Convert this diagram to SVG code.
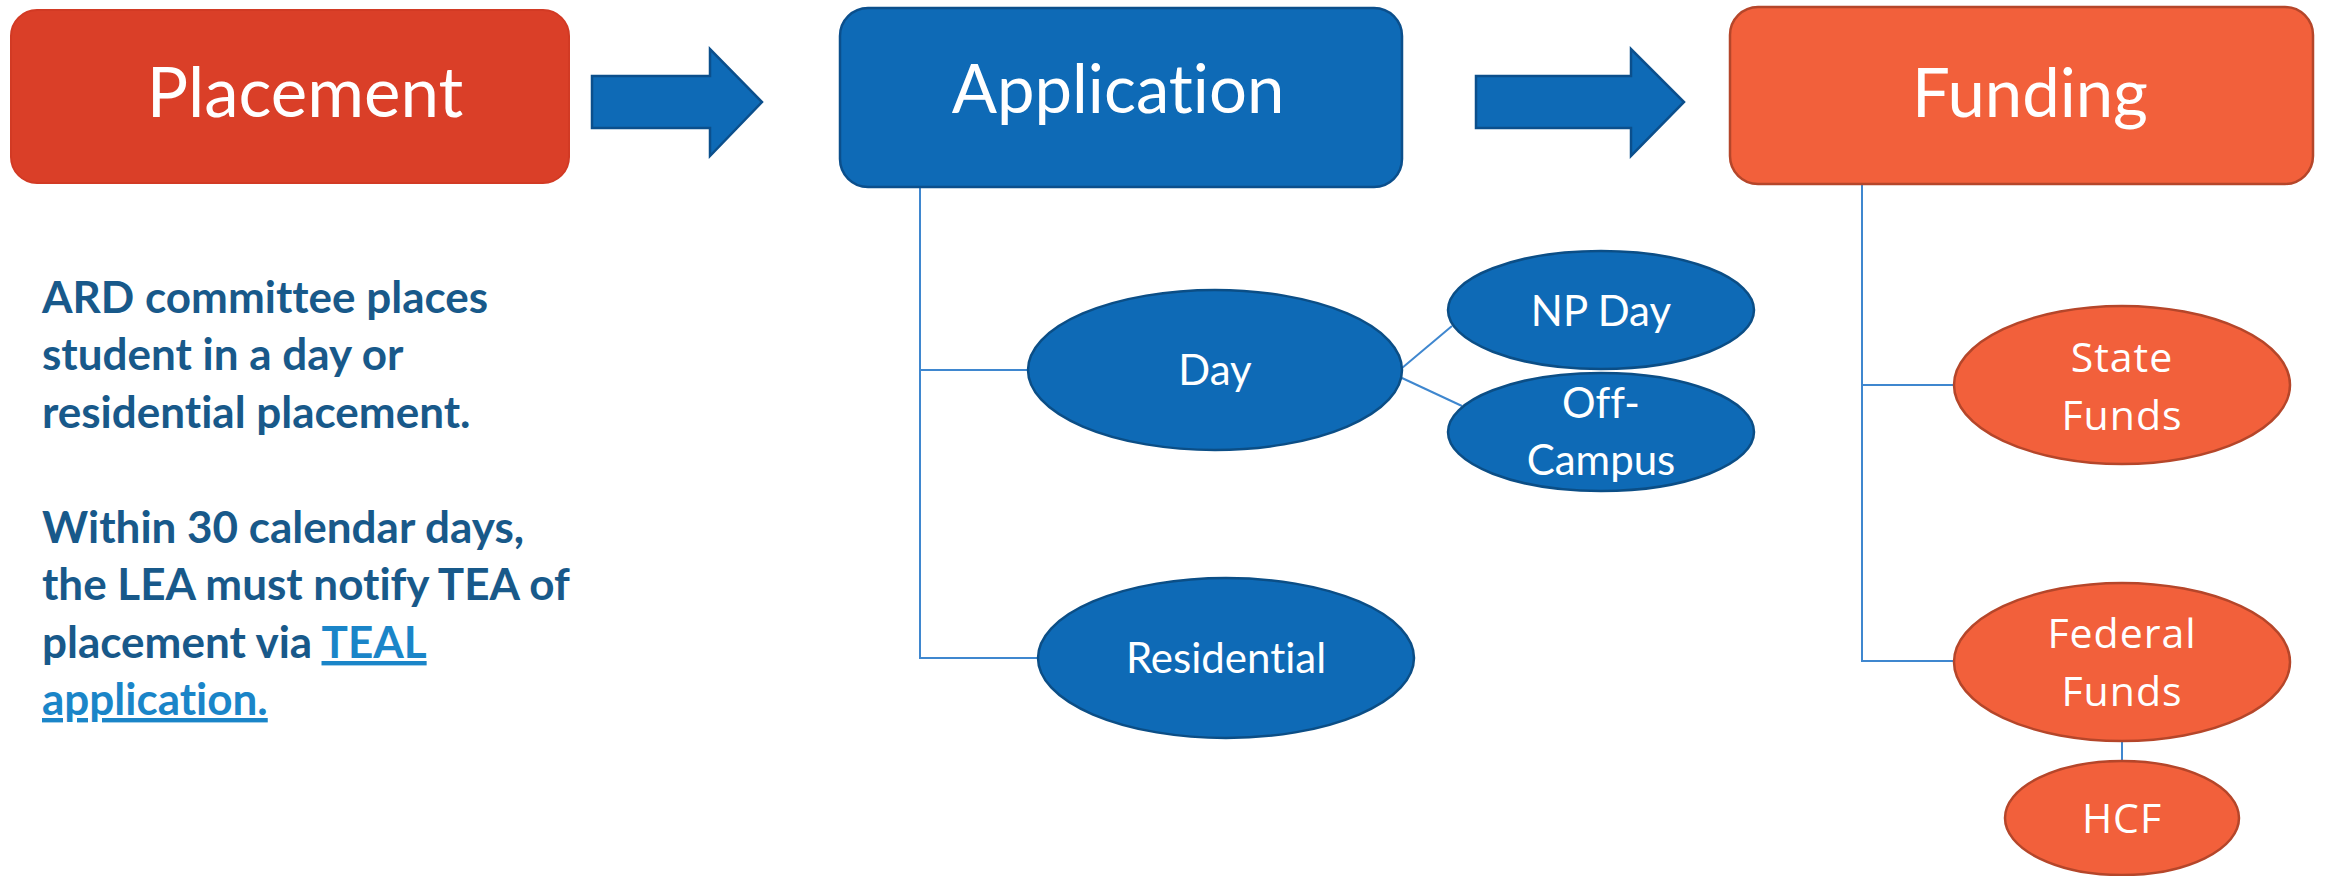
<svg xmlns="http://www.w3.org/2000/svg" width="2326" height="876" viewBox="0 0 2326 876">
<style>
text{font-variant-ligatures:none;font-feature-settings:"liga" 0,"clig" 0}
.bg{fill:#ffffff}
.boxRed{fill:#DA3F28;stroke:#D23A24;stroke-width:2}
.boxBlue{fill:#0E6AB6;stroke:#0B4F8C;stroke-width:2.5}
.boxOrg{fill:#F2603B;stroke:#B5462A;stroke-width:2.5}
.ellBlue{fill:#0E6AB6;stroke:#0B4E86;stroke-width:2.5}
.ellOrg{fill:#F2603B;stroke:#B5462A;stroke-width:2.5}
.arrow{fill:#0E6AB6;stroke:#0B4F8C;stroke-width:2.5}
.conn{fill:none;stroke:#3F87CF;stroke-width:2}
.title{font-family:Lato,"Open Sans",sans-serif;fill:#ffffff;text-anchor:middle}
.lbl{font-family:Lato,"Open Sans",sans-serif;fill:#ffffff;text-anchor:middle;font-size:42px}
.lblO{font-family:"Open Sans","Noto Sans",sans-serif;fill:#ffffff;text-anchor:middle;font-size:41px;letter-spacing:1px}
.note{font-family:Lato,"Open Sans",sans-serif;font-weight:bold;font-size:44px;fill:#18598A}
.link{fill:#1A85C8;text-decoration:underline}
</style>
<rect class="bg" x="0" y="0" width="2326" height="876"/>
<g id="connectors">
<polyline class="conn" points="920,187 920,658 1039,658"/>
<line class="conn" x1="920" y1="370" x2="1028" y2="370"/>
<line class="conn" x1="1402" y1="368" x2="1452" y2="326"/>
<line class="conn" x1="1402" y1="378" x2="1462" y2="406"/>
<polyline class="conn" points="1862,184 1862,661 1954,661"/>
<line class="conn" x1="1862" y1="385" x2="1954" y2="385"/>
<line class="conn" x1="2122" y1="741" x2="2122" y2="761"/>
</g>
<g id="arrow1"><polygon class="arrow" points="592,76 710,76 710,49 762,102 710,156 710,128 592,128"/></g>
<g id="arrow2"><polygon class="arrow" points="1476,76 1631,76 1631,49 1684,102 1631,156 1631,128 1476,128"/></g>
<g id="placement">
<rect class="boxRed" x="11" y="10" width="558" height="173" rx="26"/>
<text class="title" x="305" y="117" font-size="69">Placement</text>
</g>
<g id="application">
<rect class="boxBlue" x="840" y="8" width="562" height="179" rx="28"/>
<text class="title" x="1118" y="113" font-size="67">Application</text>
</g>
<g id="funding">
<rect class="boxOrg" x="1730" y="7" width="583" height="177" rx="28"/>
<text class="title" x="2030" y="117" font-size="67">Funding</text>
</g>
<g id="day">
<ellipse class="ellBlue" cx="1215" cy="370" rx="187" ry="80"/>
<text class="lbl" x="1215" y="385">Day</text>
</g>
<g id="npday">
<ellipse class="ellBlue" cx="1601" cy="310" rx="153" ry="59"/>
<text class="lbl" x="1601" y="326">NP Day</text>
</g>
<g id="offcampus">
<ellipse class="ellBlue" cx="1601" cy="432" rx="153" ry="59"/>
<text class="lbl" x="1601" y="418">Off-</text>
<text class="lbl" x="1601" y="475">Campus</text>
</g>
<g id="residential">
<ellipse class="ellBlue" cx="1226" cy="658" rx="188" ry="80"/>
<text class="lbl" x="1226" y="673">Residential</text>
</g>
<g id="statefunds">
<ellipse class="ellOrg" cx="2122" cy="385" rx="168" ry="79"/>
<text class="lblO" x="2122" y="372">State</text>
<text class="lblO" x="2122" y="430">Funds</text>
</g>
<g id="federalfunds">
<ellipse class="ellOrg" cx="2122" cy="662" rx="168" ry="79"/>
<text class="lblO" x="2122" y="648">Federal</text>
<text class="lblO" x="2122" y="706">Funds</text>
</g>
<g id="hcf">
<ellipse class="ellOrg" cx="2122" cy="818" rx="117" ry="57"/>
<text class="lblO" x="2122" y="833">HCF</text>
</g>
<g id="note">
<text class="note" x="42" y="313">ARD committee places</text>
<text class="note" x="42" y="370">student in a day or</text>
<text class="note" x="42" y="428">residential placement.</text>
<text class="note" x="42" y="543">Within 30 calendar days,</text>
<text class="note" x="42" y="600">the LEA must notify TEA of</text>
<text class="note" x="42" y="658">placement via <tspan class="link">TEAL</tspan></text>
<text class="note" x="42" y="715"><tspan class="link">application.</tspan></text>
</g>
</svg>
